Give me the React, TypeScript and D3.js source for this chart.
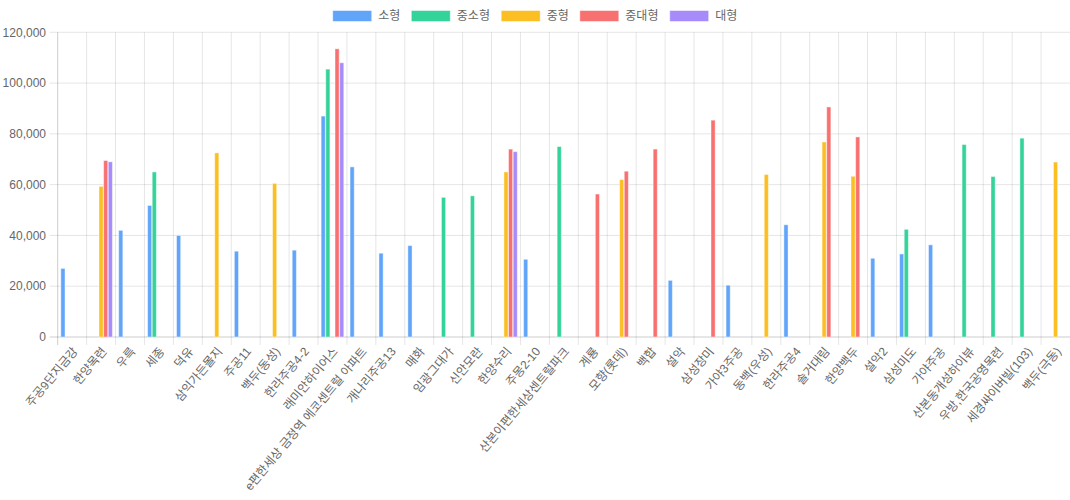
import React from 'react';
import * as d3 from 'd3';

const CATEGORIES = [
  '주공9단지금강', '한양목련', '우륵', '세종', '덕유', '삼익가든몰지', '주공11', '백두(동성)',
  '한라주공4-2', '래미안하이어스', 'e편한세상 금정역 에코센트럴 아파트', '개나리주공13', '매화',
  '임광그대가', '신안모란', '한양수리', '주몽2-10', '산본이편한세상센트럴파크', '계룡', '모향(롯데)',
  '백합', '설악', '삼성장미', '가야3주공', '동백(우성)', '한라주공4', '솔거대림', '한양백두',
  '설악2', '삼성미도', '가야주공', '산본동개성하이뷰', '우방,한국공영목련', '세경싸이버빌(103)', '백두(극동)',
];

const SERIES = ['소형', '중소형', '중형', '중대형', '대형'];
const COLORS = ['#60a5fa', '#34d399', '#fbbf24', '#f87171', '#a78bfa'];

const N = null;
// 소형
const SMALL = [27000, N, 42000, 51800, 40000, N, 33800, N, 34200, 87000, 67000, 33000, 36000, N, N, N, 30600, N, N, N, N, 22300, N, 20400, N, 44200, N, N, 31000, 32700, 36300, N, N, N, N];
// 중소형
const MID_SMALL = [N, N, N, 65000, N, N, N, N, N, 105500, N, N, N, 55000, 55600, N, N, 75000, N, N, N, N, N, N, N, N, N, N, N, 42400, N, 75800, 63200, 78300, N];
// 중형
const MID = [N, 59300, N, N, N, 72500, N, 60500, N, N, N, N, N, N, N, 65000, N, N, N, 62000, N, N, N, N, 64000, N, 76800, 63300, N, N, N, N, N, N, 68900];
// 중대형
const MID_LARGE = [N, 69500, N, N, N, N, N, N, N, 113500, N, N, N, N, N, 74000, N, N, 56300, 65300, 74000, N, 85400, N, N, N, 90600, 78800, N, N, N, N, N, N, N];
// 대형
const LARGE = [N, 69000, N, N, N, N, N, N, N, 108000, N, N, N, N, N, 73000, N, N, N, N, N, N, N, N, N, N, N, N, N, N, N, N, N, N, N];

const VALUES = [SMALL, MID_SMALL, MID, MID_LARGE, LARGE];
const Y_TICKS = [0, 20000, 40000, 60000, 80000, 100000, 120000];

const W = 1070;
const H = 500;
const left = 57.7;
const right = 1070;
const top = 32.3;
const bottom = 337;
const FONT = "'Liberation Sans', 'Noto Sans CJK KR', sans-serif";
const GRID = 'rgba(0,0,0,0.1)';
const TEXT = '#666';

export default function App() {
  const x0 = d3.scaleBand<string>().domain(CATEGORIES).range([left, right]);
  const bw = x0.bandwidth();
  const x1 = d3.scaleBand<string>().domain(SERIES)
    .range([bw * 0.1, bw * 0.9]).paddingInner(0.1).paddingOuter(0.05);
  const y = d3.scaleLinear().domain([0, 120000]).range([bottom, top]);
  const fmt = d3.format(',');

  // legend layout
  const charW = 11.3;
  const itemW = SERIES.map((s) => 40 + 6 + s.length * charW);
  const totalW = d3.sum(itemW) + 10 * (SERIES.length - 1);
  let lx = W / 2 - totalW / 2;
  const legendX = itemW.map((w) => { const p = lx; lx += w + 10; return p; });

  return (
    <div style={{ position: 'absolute', left: 0, top: 0, width: W, height: H, background: '#fff' }}>
      <svg width={W} height={H} style={{ display: 'block', fontFamily: FONT }}>
        {/* legend */}
        {SERIES.map((s, i) => (
          <g key={s} transform={`translate(${legendX[i]},10)`}>
            <rect x={0.5} y={0.5} width={39} height={11} fill={COLORS[i]} stroke="rgba(255,255,255,0.5)" />
            <text x={46} y={6} dy="0.36em" fontSize={12} fill={TEXT}>{s}</text>
          </g>
        ))}

        {/* horizontal grid */}
        {Y_TICKS.map((t) => (
          <g key={t}>
            <line x1={left - 8} x2={right} y1={y(t)} y2={y(t)} stroke={t === 0 ? 'rgba(0,0,0,0.2)' : GRID} />
            <text x={46} y={y(t)} dy="0.35em" textAnchor="end" fontSize={12} fill={TEXT}>{fmt(t)}</text>
          </g>
        ))}

        {/* vertical grid */}
        {CATEGORIES.map((c, i) => (
          <line key={c} x1={x0(c)!} x2={x0(c)!} y1={top} y2={bottom + 8}
            stroke={i === 0 ? 'rgba(0,0,0,0.2)' : GRID} />
        ))}

        {/* bars */}
        {VALUES.map((vals, si) => (
          <g key={SERIES[si]}>
            {vals.map((v, ci) => v == null ? null : (
              <rect key={ci}
                x={x0(CATEGORIES[ci])! + x1(SERIES[si])!}
                y={y(v)}
                width={x1.bandwidth()}
                height={bottom - y(v)}
                fill={COLORS[si]}
                stroke="rgba(255,255,255,0.45)"
                strokeWidth={1} />
            ))}
          </g>
        ))}

        {/* x labels */}
        {CATEGORIES.map((c) => {
          const cx = x0(c)! + bw / 2;
          return (
            <text key={c} transform={`translate(${cx + 3},${bottom + 12}) rotate(-50)`}
              textAnchor="end" dy="0.35em" fontSize={12} fill={TEXT}>{c}</text>
          );
        })}
      </svg>
    </div>
  );
}
